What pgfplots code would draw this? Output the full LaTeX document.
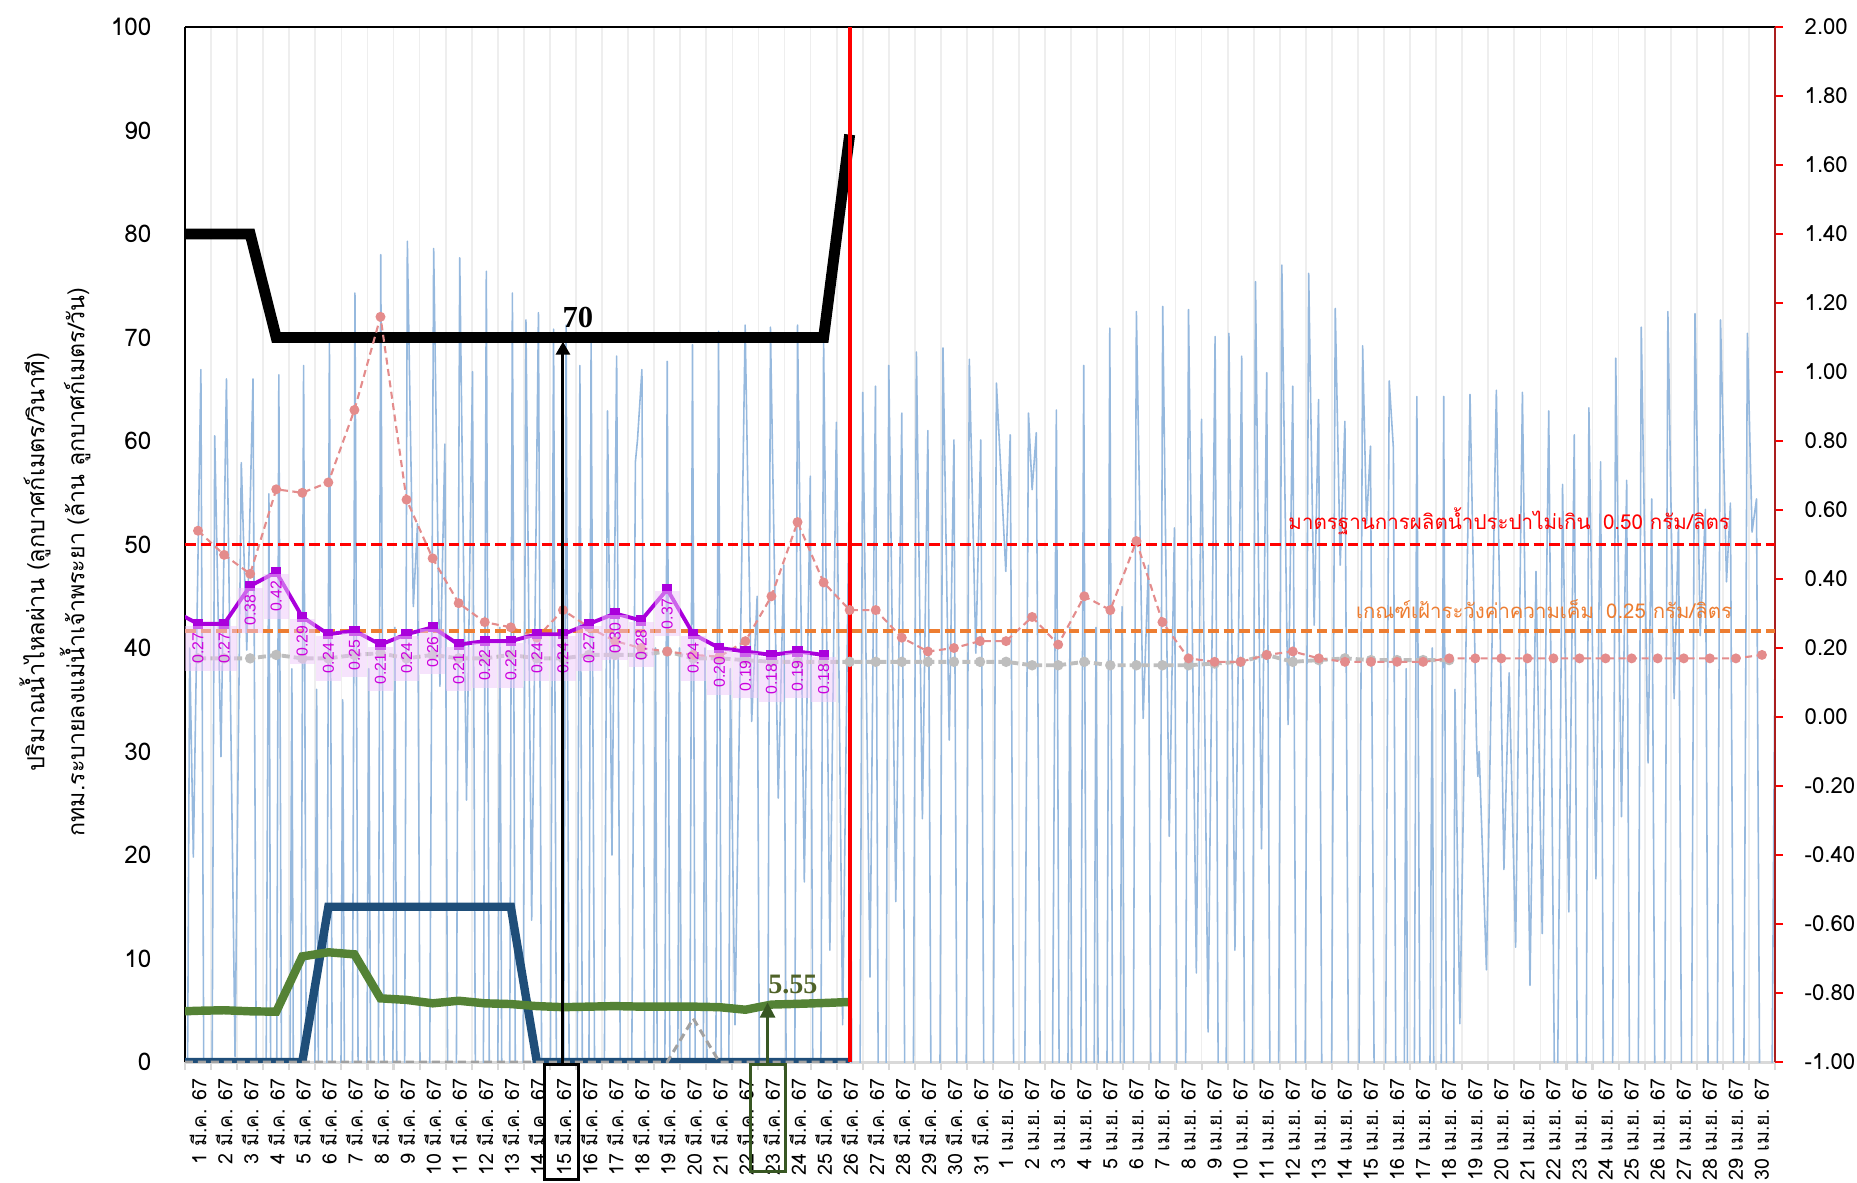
\documentclass[border=0pt]{standalone}
\usepackage{fontspec}
\setmainfont{Loma}[Script=Thai]
\newfontfamily\serifb{Liberation Serif}
\newfontfamily\arialf{Liberation Sans}
\usepackage{pgfplots}
\pgfplotsset{compat=1.18}
\usetikzlibrary{arrows.meta}
\definecolor{navyc}{RGB}{31,78,121}
\definecolor{greenc}{RGB}{84,130,53}
\definecolor{purplec}{RGB}{170,0,220}
\definecolor{labelc}{RGB}{204,0,221}
\definecolor{boxc}{RGB}{238,200,250}
\definecolor{pinkc}{RGB}{228,140,140}
\definecolor{grayser}{RGB}{190,190,190}
\definecolor{orangec}{RGB}{237,125,49}
\definecolor{redc}{RGB}{255,0,0}
\definecolor{bluethin}{RGB}{150,185,222}
\definecolor{darkgreen}{RGB}{56,87,35}
\definecolor{txtgreen}{RGB}{79,98,40}
\definecolor{axgray}{RGB}{217,217,217}
\definecolor{gridc}{RGB}{238,238,238}
\definecolor{maroonc}{RGB}{170,30,30}
\newcommand\ticksize{\fontsize{6.9}{8}\selectfont}
\newcommand\rticksize{\fontsize{6.3}{7.5}\selectfont}
\newcommand\xticksize{\fontsize{5.6}{6.5}\selectfont}
\begin{document}
\begin{tikzpicture}
\useasboundingbox (-18.5mm,-12.0mm) rectangle (167.2mm,106.2mm);
\begin{axis}[
  at={(0,0)}, anchor=south west,
  scale only axis, width=159mm, height=103.5mm,
  xmin=0.5, xmax=61.5, ymin=0, ymax=100,
  axis x line*=bottom, axis y line*=left,
  x axis line style={draw=axgray, line width=0.85pt, -},
  y axis line style={draw=black, line width=0.6pt, -},
  ytick={0,10,...,100},
  major tick length=0pt,
  yticklabel style={font=\ticksize, anchor=east, inner sep=0pt, xshift=-3.3mm},
  xtick={1,2,...,61},
  xticklabels={1 มี.ค. 67,2 มี.ค. 67,3 มี.ค. 67,4 มี.ค. 67,5 มี.ค. 67,6 มี.ค. 67,7 มี.ค. 67,8 มี.ค. 67,9 มี.ค. 67,10 มี.ค. 67,11 มี.ค. 67,12 มี.ค. 67,13 มี.ค. 67,14 มี.ค. 67,15 มี.ค. 67,16 มี.ค. 67,17 มี.ค. 67,18 มี.ค. 67,19 มี.ค. 67,20 มี.ค. 67,21 มี.ค. 67,22 มี.ค. 67,23 มี.ค. 67,24 มี.ค. 67,25 มี.ค. 67,26 มี.ค. 67,27 มี.ค. 67,28 มี.ค. 67,29 มี.ค. 67,30 มี.ค. 67,31 มี.ค. 67,1 เม.ย. 67,2 เม.ย. 67,3 เม.ย. 67,4 เม.ย. 67,5 เม.ย. 67,6 เม.ย. 67,7 เม.ย. 67,8 เม.ย. 67,9 เม.ย. 67,10 เม.ย. 67,11 เม.ย. 67,12 เม.ย. 67,13 เม.ย. 67,14 เม.ย. 67,15 เม.ย. 67,16 เม.ย. 67,17 เม.ย. 67,18 เม.ย. 67,19 เม.ย. 67,20 เม.ย. 67,21 เม.ย. 67,22 เม.ย. 67,23 เม.ย. 67,24 เม.ย. 67,25 เม.ย. 67,26 เม.ย. 67,27 เม.ย. 67,28 เม.ย. 67,29 เม.ย. 67,30 เม.ย. 67},
  xticklabel style={font=\xticksize, yshift=-1.6mm, rotate=90, anchor=east, inner sep=0pt},
  minor xtick={0.5,1.5,...,61.5},
  minor tick length=0.8mm,
  xtick align=outside,
  minor x tick style={draw=axgray, line width=0.6pt},
  xminorgrids, minor x grid style={draw=gridc, line width=0.5pt},
  /pgf/number format/assume math mode=true,
]
\draw[black, line width=0.6pt] (rel axis cs:0,1) -- (rel axis cs:1,1);
% thin blue tidal flow
\addplot[bluethin, line width=0.45pt, line join=round] coordinates {
(0.40,-100)(0.68,40)(0.82,19.8)(1.11,66.9)(1.38,-100)(1.64,60.5)(1.88,29.5)(2.09,66.0)(2.42,0.5)(2.66,57.9)(2.87,39.8)(3.11,66.0)(3.42,-100)(3.72,54.9)(3.90,-100)(4.10,66.4)(4.35,-100)(4.60,38)(4.80,-100)
(5.05,67.3)(5.30,-100)(5.55,36)(5.80,-100)
(6.04,69.7)(6.30,-100)(6.55,35)(6.80,-100)
(7.02,74.3)(7.30,-100)(7.55,38)(7.80,-100)
(8.01,78.0)(8.30,-100)(8.55,42)(8.80,-100)
(9.03,79.3)(9.26,44)(9.42,52)(9.70,-100)
(10.04,78.6)(10.28,36.3)(10.47,59.7)(10.75,-100)
(11.04,77.7)(11.30,25.3)(11.53,66.7)(11.80,-100)
(12.06,76.4)(12.32,-100)(12.58,42)(12.82,-100)
(13.06,74.3)(13.32,-100)(13.58,71.7)(13.80,13.7)(14.06,72.4)(14.35,-100)(14.64,70.8)(14.90,-100)(15.12,71.2)(15.40,-100)(15.65,67.3)(15.88,-100)(16.08,69.9)(16.40,-100)(16.71,62.9)(16.88,20)(17.06,68.2)(17.40,-100)(17.78,58)(17.86,60.1)(18.03,66.9)(18.30,-100)(18.55,40)(18.78,-100)
(19.00,67.7)(19.25,-100)(19.47,40)(19.72,-100)
(19.97,69.3)(20.22,-100)(20.45,40)(20.72,-100)
(20.97,70.6)(21.22,-100)(21.42,38)(21.60,3.6)
(21.99,71.2)(22.24,32.9)(22.45,45)(22.72,-100)
(22.96,71.0)(23.26,25.5)(23.47,48)(23.75,-100)
(24.00,71.2)(24.26,17.4)(24.49,56.6)(24.75,-100)
(25.00,69.9)(25.24,10.8)(25.49,61.8)(25.73,3.6)(25.98,55)(26.25,-100)
(26.50,64.7)(26.78,8.2)(26.99,65.3)(27.25,-100)
(27.50,67.3)(27.77,15.5)(28.00,62.7)(28.28,-100)
(28.56,68.6)(28.79,23.5)(29.00,61.0)(29.30,-100)
(29.58,69.0)(29.82,31.1)(30.00,60.1)(30.30,-100)
(30.59,67.9)(30.84,39.5)(31.03,60.1)(31.33,-100)
(31.63,65.6)(31.99,47.4)(32.16,60.6)(32.50,-100)
(32.86,62.7)(33.00,55.3)(33.16,60.8)(33.55,-100)
(33.93,63.0)(34.20,-100)(34.45,42)(34.70,-100)
(34.98,67.3)(35.22,-100)(35.45,42)(35.72,-100)
(35.98,70.9)(36.24,-100)(36.45,44)(36.72,-100)
(37.00,72.5)(37.26,33.2)(37.46,48)(37.74,-100)
(38.01,73.0)(38.26,21.8)(38.46,51.6)(38.74,-100)
(39.00,72.7)(39.30,8.6)(39.50,62.1)(39.75,2.9)(40.02,70.1)(40.30,-100)
(40.55,70.4)(40.78,10.8)(41.04,68.2)(41.30,-100)
(41.57,75.4)(41.80,20.6)(42.00,66.6)(42.30,-100)
(42.58,77.0)(42.82,32.6)(43.00,65.3)(43.30,-100)
(43.61,76.2)(43.82,42.2)(43.99,64.0)(44.30,-100)
(44.63,72.8)(44.82,48)(45.00,61.9)(45.35,-100)
(45.68,69.2)(45.83,52)(45.98,59.5)(46.35,-100)
(46.70,65.8)(46.86,59.3)(47.10,-100)(47.35,38)(47.52,-100)
(47.76,64.3)(48.05,-100)(48.35,40)(48.55,-100)
(48.79,64.3)(49.05,-100)(49.22,36)(49.41,3.7)
(49.80,64.5)(50.05,31)(50.10,27.6)(50.15,30)(50.43,8.9)
(50.81,64.9)(51.10,18.6)(51.30,37.6)(51.55,11.1)
(51.81,64.7)(52.10,7.4)(52.33,47.4)(52.57,12.4)
(52.82,62.9)(53.10,-20)(53.35,55.8)(53.59,14.5)(53.80,60.6)(54.10,-100)
(54.36,63.2)(54.63,17.7)(54.81,58.0)(55.10,-100)
(55.39,68.0)(55.61,23.7)(55.81,56.2)(56.10,-100)
(56.37,71.0)(56.63,28.9)(56.77,54.4)(57.10,-100)
(57.39,72.5)(57.63,35.1)(57.80,52.3)(58.12,-100)
(58.43,72.3)(58.63,41.2)(58.83,53.4)(59.12,-100)
(59.41,71.7)(59.64,46.4)(59.79,54.0)(60.12,-100)
(60.44,70.4)(60.62,51.2)(60.79,54.4)(61.12,-100)(61.50,40)
};
% thick navy line
\addplot[navyc, line width=2.4pt] coordinates {(0,0)(5,0)(6,15)(7,15)(8,15)(9,15)(10,15)(11,15)(12,15)(13,15)(14,0)(26,0)};
% gray dashed on left axis
\addplot[grayser!85!black, line width=0.85pt, dash pattern=on 0.8mm off 0.5mm] coordinates {(0,0)(19,0)(20,4.2)(21,0)(26,0)};
% green line
\addplot[greenc, line width=2.4pt] coordinates {(0,4.86)(1,4.95)(2,5.0)(3,4.9)(4,4.86)(5,10.2)(6,10.6)(7,10.4)(8,6.15)(9,6.0)(10,5.67)(11,5.92)(12,5.67)(13,5.6)(14,5.4)(15,5.3)(16,5.35)(17,5.4)(18,5.35)(19,5.35)(20,5.35)(21,5.3)(22,5.05)(23,5.55)(24,5.62)(25,5.7)(26,5.8)};
% black line
\addplot[black, line width=3.1pt] coordinates {(0,80)(1,80)(2,80)(3,80)(4,70)(5,70)(6,70)(7,70)(8,70)(9,70)(10,70)(11,70)(12,70)(13,70)(14,70)(15,70)(16,70)(17,70)(18,70)(19,70)(20,70)(21,70)(22,70)(23,70)(24,70)(25,70)(26,89.6)};
% red vertical line
\addplot[redc, line width=1.1pt] coordinates {(26,0)(26,100)};
\coordinate (tA) at (axis cs:15,69.6);
\coordinate (bA) at (axis cs:15,0);
\coordinate (l70) at (axis cs:15,71.0);
\coordinate (tG) at (axis cs:22.85,5.75);
\coordinate (bG) at (axis cs:22.85,0);
\coordinate (l555) at (axis cs:22.85,6.64);
\end{axis}
\begin{axis}[
  at={(0,0)}, anchor=south west,
  scale only axis, width=159mm, height=103.5mm,
  xmin=0.5, xmax=61.5, ymin=-1, ymax=2,
  hide x axis,
  axis y line*=right,
  y axis line style={draw=maroonc, line width=0.6pt, -},
  ytick={-1,-0.8,-0.6,-0.4,-0.2,0,0.2,0.4,0.6,0.8,1,1.2,1.4,1.6,1.8,2},
  ytick align=outside, major tick length=0.8mm,
  ytick style={draw=redc, line width=0.5pt},
  yticklabel style={font=\rticksize, anchor=west, inner sep=0pt, xshift=2.1mm, /pgf/number format/fixed, /pgf/number format/fixed zerofill, /pgf/number format/precision=2, /pgf/number format/assume math mode=true},
]
% gray salinity series
\addplot[grayser, line width=1.1pt, dash pattern=on 0.8mm off 0.4mm, mark=*, mark size=0.9pt, mark options={solid, fill=grayser, draw=grayser}] coordinates {
(1,0.17)(2,0.17)(3,0.17)(4,0.18)(5,0.17)(6,0.17)(7,0.18)(8,0.185)(9,0.17)(10,0.18)(11,0.17)(12,0.17)(13,0.18)(14,0.17)(15,0.17)(16,0.18)(17,0.18)(18,0.18)(19,0.19)(20,0.17)(21,0.17)(22,0.165)(23,0.16)(24,0.16)(25,0.16)(26,0.16)(27,0.16)(28,0.16)(29,0.16)(30,0.16)(31,0.16)(32,0.16)(33,0.15)(34,0.15)(35,0.16)(36,0.15)(37,0.15)(38,0.15)(39,0.15)(40,0.155)(41,0.16)(42,0.18)(43,0.16)(44,0.165)(45,0.17)(46,0.165)(47,0.165)(48,0.165)(49,0.165)};
% pink salinity series
\addplot[pinkc, line width=0.6pt, dash pattern=on 0.7mm off 0.45mm, mark=*, mark size=1.1pt, mark options={solid, fill=pinkc, draw=pinkc}] coordinates {
(1,0.54)(2,0.47)(3,0.415)(4,0.66)(5,0.65)(6,0.68)(7,0.89)(8,1.16)(9,0.63)(10,0.46)(11,0.33)(12,0.275)(13,0.26)(14,0.23)(15,0.31)(16,0.26)(17,0.22)(18,0.20)(19,0.19)(20,0.18)(21,0.175)(22,0.22)(23,0.35)(24,0.565)(25,0.39)(26,0.31)(27,0.31)(28,0.23)(29,0.19)(30,0.20)(31,0.22)(32,0.22)(33,0.29)(34,0.21)(35,0.35)(36,0.31)(37,0.51)(38,0.275)(39,0.17)(40,0.16)(41,0.16)(42,0.18)(43,0.19)(44,0.17)(45,0.16)(46,0.16)(47,0.16)(48,0.16)(49,0.17)(50,0.17)(51,0.17)(52,0.17)(53,0.17)(54,0.17)(55,0.17)(56,0.17)(57,0.17)(58,0.17)(59,0.17)(60,0.17)(61,0.18)};
% threshold lines
\addplot[redc, line width=1.1pt, dash pattern=on 1.05mm off 0.5mm] coordinates {(0.5,0.5)(61.5,0.5)};
\addplot[orangec, line width=1.1pt, dash pattern=on 1.05mm off 0.5mm] coordinates {(0.5,0.25)(61.5,0.25)};
\node[anchor=base east, inner sep=0pt, text=redc, font=\fontsize{5.85}{7}\selectfont] at ([yshift=1.5mm]axis cs:59.8,0.5) {มาตรฐานการผลิตน้ำประปาไม่เกิน\hspace{0.6em}0.50 กรัม/ลิตร};
\node[anchor=base east, inner sep=0pt, text=orangec, font=\fontsize{5.8}{7}\selectfont] at ([yshift=1.27mm]axis cs:59.88,0.25) {เกณฑ์เฝ้าระวังค่าความเค็ม\hspace{0.6em}0.25 กรัม/ลิตร};
% purple series
\addplot[purplec, line width=1.1pt, forget plot] coordinates {(0,0.31)(1,0.27)};
\addplot[purplec, line width=1.1pt, mark=square*, mark size=0.9pt, mark options={solid},
  point meta=y,
  nodes near coords={\pgfmathprintnumber[fixed,fixed zerofill,precision=2,assume math mode=true]{\pgfplotspointmeta}},
  every node near coord/.append style={rotate=90, anchor=east, font=\arialf\fontsize{4.5}{5}\selectfont, text=labelc, fill=boxc, fill opacity=0.5, text opacity=1, inner xsep=0.7mm, inner ysep=0.7mm}]
  coordinates {(1,0.27)(2,0.27)(3,0.38)(4,0.42)(5,0.29)(6,0.24)(7,0.25)(8,0.21)(9,0.24)(10,0.26)(11,0.21)(12,0.22)(13,0.22)(14,0.24)(15,0.24)(16,0.27)(17,0.30)(18,0.28)(19,0.37)(20,0.24)(21,0.20)(22,0.19)(23,0.18)(24,0.19)(25,0.18)};
\end{axis}
% annotations
\draw[black, line width=0.85pt, -{Triangle[width=1.4mm,length=1.3mm]}] ([yshift=-0.25mm]bA) -- (tA);
\draw[black, line width=0.85pt] ([xshift=-1.85mm,yshift=-0.25mm]bA) rectangle ([xshift=1.55mm,yshift=-11.7mm]bA);
\node[anchor=base west, inner sep=0pt, font=\serifb\bfseries\fontsize{8.7}{10}\selectfont] at ([xshift=-0.1mm]l70) {70};
\draw[darkgreen, line width=0.75pt, -{Triangle[width=1.5mm,length=1.5mm]}] ([yshift=-0.25mm]bG) -- (tG);
\draw[darkgreen, line width=0.85pt] ([xshift=-1.66mm,yshift=-0.25mm]bG) rectangle ([xshift=1.79mm,yshift=-10.9mm]bG);
\node[anchor=base west, inner sep=0pt, text=txtgreen, font=\serifb\bfseries\fontsize{8}{10}\selectfont] at (l555) {5.55};
% y axis title
\node[rotate=90, inner sep=0pt, font=\fontsize{6.7}{8}\selectfont] at (-15.0mm,50mm) {ปริมาณน้ำไหลผ่าน (ลูกบาศก์เมตร/วินาที)};
\node[rotate=90, inner sep=0pt, font=\fontsize{6.6}{8}\selectfont] at (-11.0mm,50mm) {กทม.ระบายลงแม่น้ำเจ้าพระยา (ล้าน ลูกบาศก์เมตร/วัน)};
\end{tikzpicture}
\end{document}
